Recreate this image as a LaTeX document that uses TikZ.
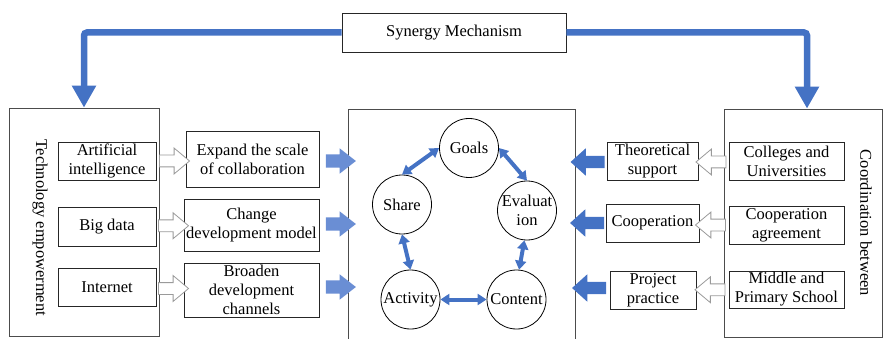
\documentclass[tikz,border=0pt]{standalone}
\usepackage{fontspec}
\setmainfont{Liberation Serif}
\usetikzlibrary{arrows.meta,shapes.arrows,calc}
\definecolor{blueA}{HTML}{4472C4}
\definecolor{blueB}{HTML}{6A8ED4}
\definecolor{hgray}{HTML}{9A9A9A}
\begin{document}
\begin{tikzpicture}[x=1pt,y=-1pt,
  txt/.style={font=\fontsize{16.5}{19}\selectfont, align=center, inner sep=0pt},
  box/.style={txt, draw=black!85, line width=0.8pt},
  bigbox/.style={draw=black!70, line width=0.8pt, inner sep=0pt},
  circ/.style={txt, circle, draw=black, line width=0.8pt, minimum size=59pt},
  bigarrow/.style={draw=blueA, line width=6.5pt, rounded corners=3pt, -{Triangle[width=23pt,length=22pt]}},
  hollowR/.style={single arrow, draw=hgray, fill=white, line width=0.8pt, inner xsep=0pt, inner ysep=5.5pt, minimum height=30pt, single arrow head extend=7pt, single arrow tip angle=80},
  hollowL/.style={hollowR, shape border rotate=180},
  fillR/.style={single arrow, draw=none, fill=blueB, inner xsep=0pt, inner ysep=6.5pt, minimum height=30pt, single arrow head extend=6pt, single arrow tip angle=76},
  fillL/.style={single arrow, draw=none, fill=blueA, inner xsep=0pt, inner ysep=6pt, minimum height=34pt, single arrow head extend=7.5pt, single arrow tip angle=84, shape border rotate=180},
  dbl/.style={draw=blueA, line width=4pt, {Triangle[width=11pt,length=9pt]}-{Triangle[width=11pt,length=9pt]}}
]
\useasboundingbox (0,0) rectangle (883,339);
\clip (0,0) rectangle (883,339);

% top
\node[box, minimum width=224pt, minimum height=39pt] (syn) at (454,32.5) {Synergy Mechanism};

% left group
\node[bigbox, minimum width=150pt, minimum height=228pt] (tech) at (84,222) {};
\node[txt, rotate=-90] (techlbl) at (40,228) {Technology empowerment};
\node[box, minimum width=98pt, minimum height=38pt] (ai) at (107,161) {Artificial\\intelligence};
\node[box, minimum width=98pt, minimum height=39pt] (bd) at (107,226.5) {Big data};
\node[box, minimum width=98pt, minimum height=38pt] (inet) at (107,287) {Internet};

\node[box, minimum width=133pt, minimum height=56pt] (exp) at (252.5,159) {Expand the scale\\of collaboration};
\node[box, minimum width=135pt, minimum height=52pt] (chg) at (251.5,225) {Change\\development model};
\node[box, minimum width=135pt, minimum height=54pt] (brd) at (251.5,290) {Broaden\\development\\channels};

% center
\node[bigbox, minimum width=227pt, minimum height=240pt] (mid) at (461.5,229) {};
\node[circ] (goals) at (469,148) {Goals};
\node[circ] (share) at (402,204.5) {Share};
\node[circ] (eval) at (527,210.5) {Evaluat\\ion};
\node[circ] (act) at (410.5,299.5) {Activity};
\node[circ] (cont) at (516.5,299.5) {Content};

% right group
\node[bigbox, minimum width=158pt, minimum height=228pt] (coord) at (803,223) {};
\node[txt, rotate=-90] (coordlbl) at (866,223) {Coordination between};
\node[box, minimum width=115pt, minimum height=38pt] (col) at (786.5,161) {Colleges and\\Universities};
\node[box, minimum width=115pt, minimum height=38pt] (agr) at (786.5,225) {Cooperation\\agreement};
\node[box, minimum width=115pt, minimum height=37pt] (mps) at (786.5,289.5) {Middle and\\Primary School};

\node[box, minimum width=91pt, minimum height=38pt] (theo) at (652.5,161) {Theoretical\\support};
\node[box, minimum width=93pt, minimum height=38pt] (coop) at (652.5,223) {Cooperation};
\node[box, minimum width=86pt, minimum height=38pt] (proj) at (653,290) {Project\\practice};

% synergy arrows
\draw[bigarrow] (syn.west) -| (tech.north);
\draw[bigarrow] (syn.east) -| ($(coord.north)+(4,0)$);

% hollow arrows left
\node[hollowR] (h1) at ($(ai.east)!0.5!(exp.west)+(0,1)$) {};
\node[hollowR] (h2) at ($(bd.east)!0.5!(chg.west)$) {};
\node[hollowR] (h3) at ($(inet.east)!0.5!(brd.west)$) {};

% filled arrows into center
\node[fillR] (f1) at ($(exp.east -| mid.west)+(-11,2)$) {};
\node[fillR] (f2) at ($(chg.east -| mid.west)+(-11,-1)$) {};
\node[fillR] (f3) at ($(brd.east -| mid.west)+(-11,-3)$) {};

% filled arrows from right into center
\node[fillL] (g1) at ($(theo.west)!0.5!(theo.west -| mid.east)+(0,1)$) {};
\node[fillL] (g2) at ($(coop.west)!0.5!(coop.west -| mid.east)$) {};
\node[fillL] (g3) at ($(proj.west)!0.5!(proj.west -| mid.east)+(0,-2)$) {};

% hollow arrows right
\node[hollowL] (k1) at ($(col.west)!0.5!(theo.east)+(1,1)$) {};
\node[hollowL] (k2) at ($(agr.west)!0.5!(coop.east)+(0,1)$) {};
\node[hollowL] (k3) at ($(mps.west)!0.5!(proj.east)+(1,0)$) {};

% cycle arrows
\draw[dbl] (share.north) -- (goals.west);
\draw[dbl] (goals.east) -- (eval.north);
\draw[dbl] (eval.265) -- (cont.85);
\draw[dbl] (act.east) -- (cont.west);
\draw[dbl] (share.south) -- (act.north);
\end{tikzpicture}
\end{document}
